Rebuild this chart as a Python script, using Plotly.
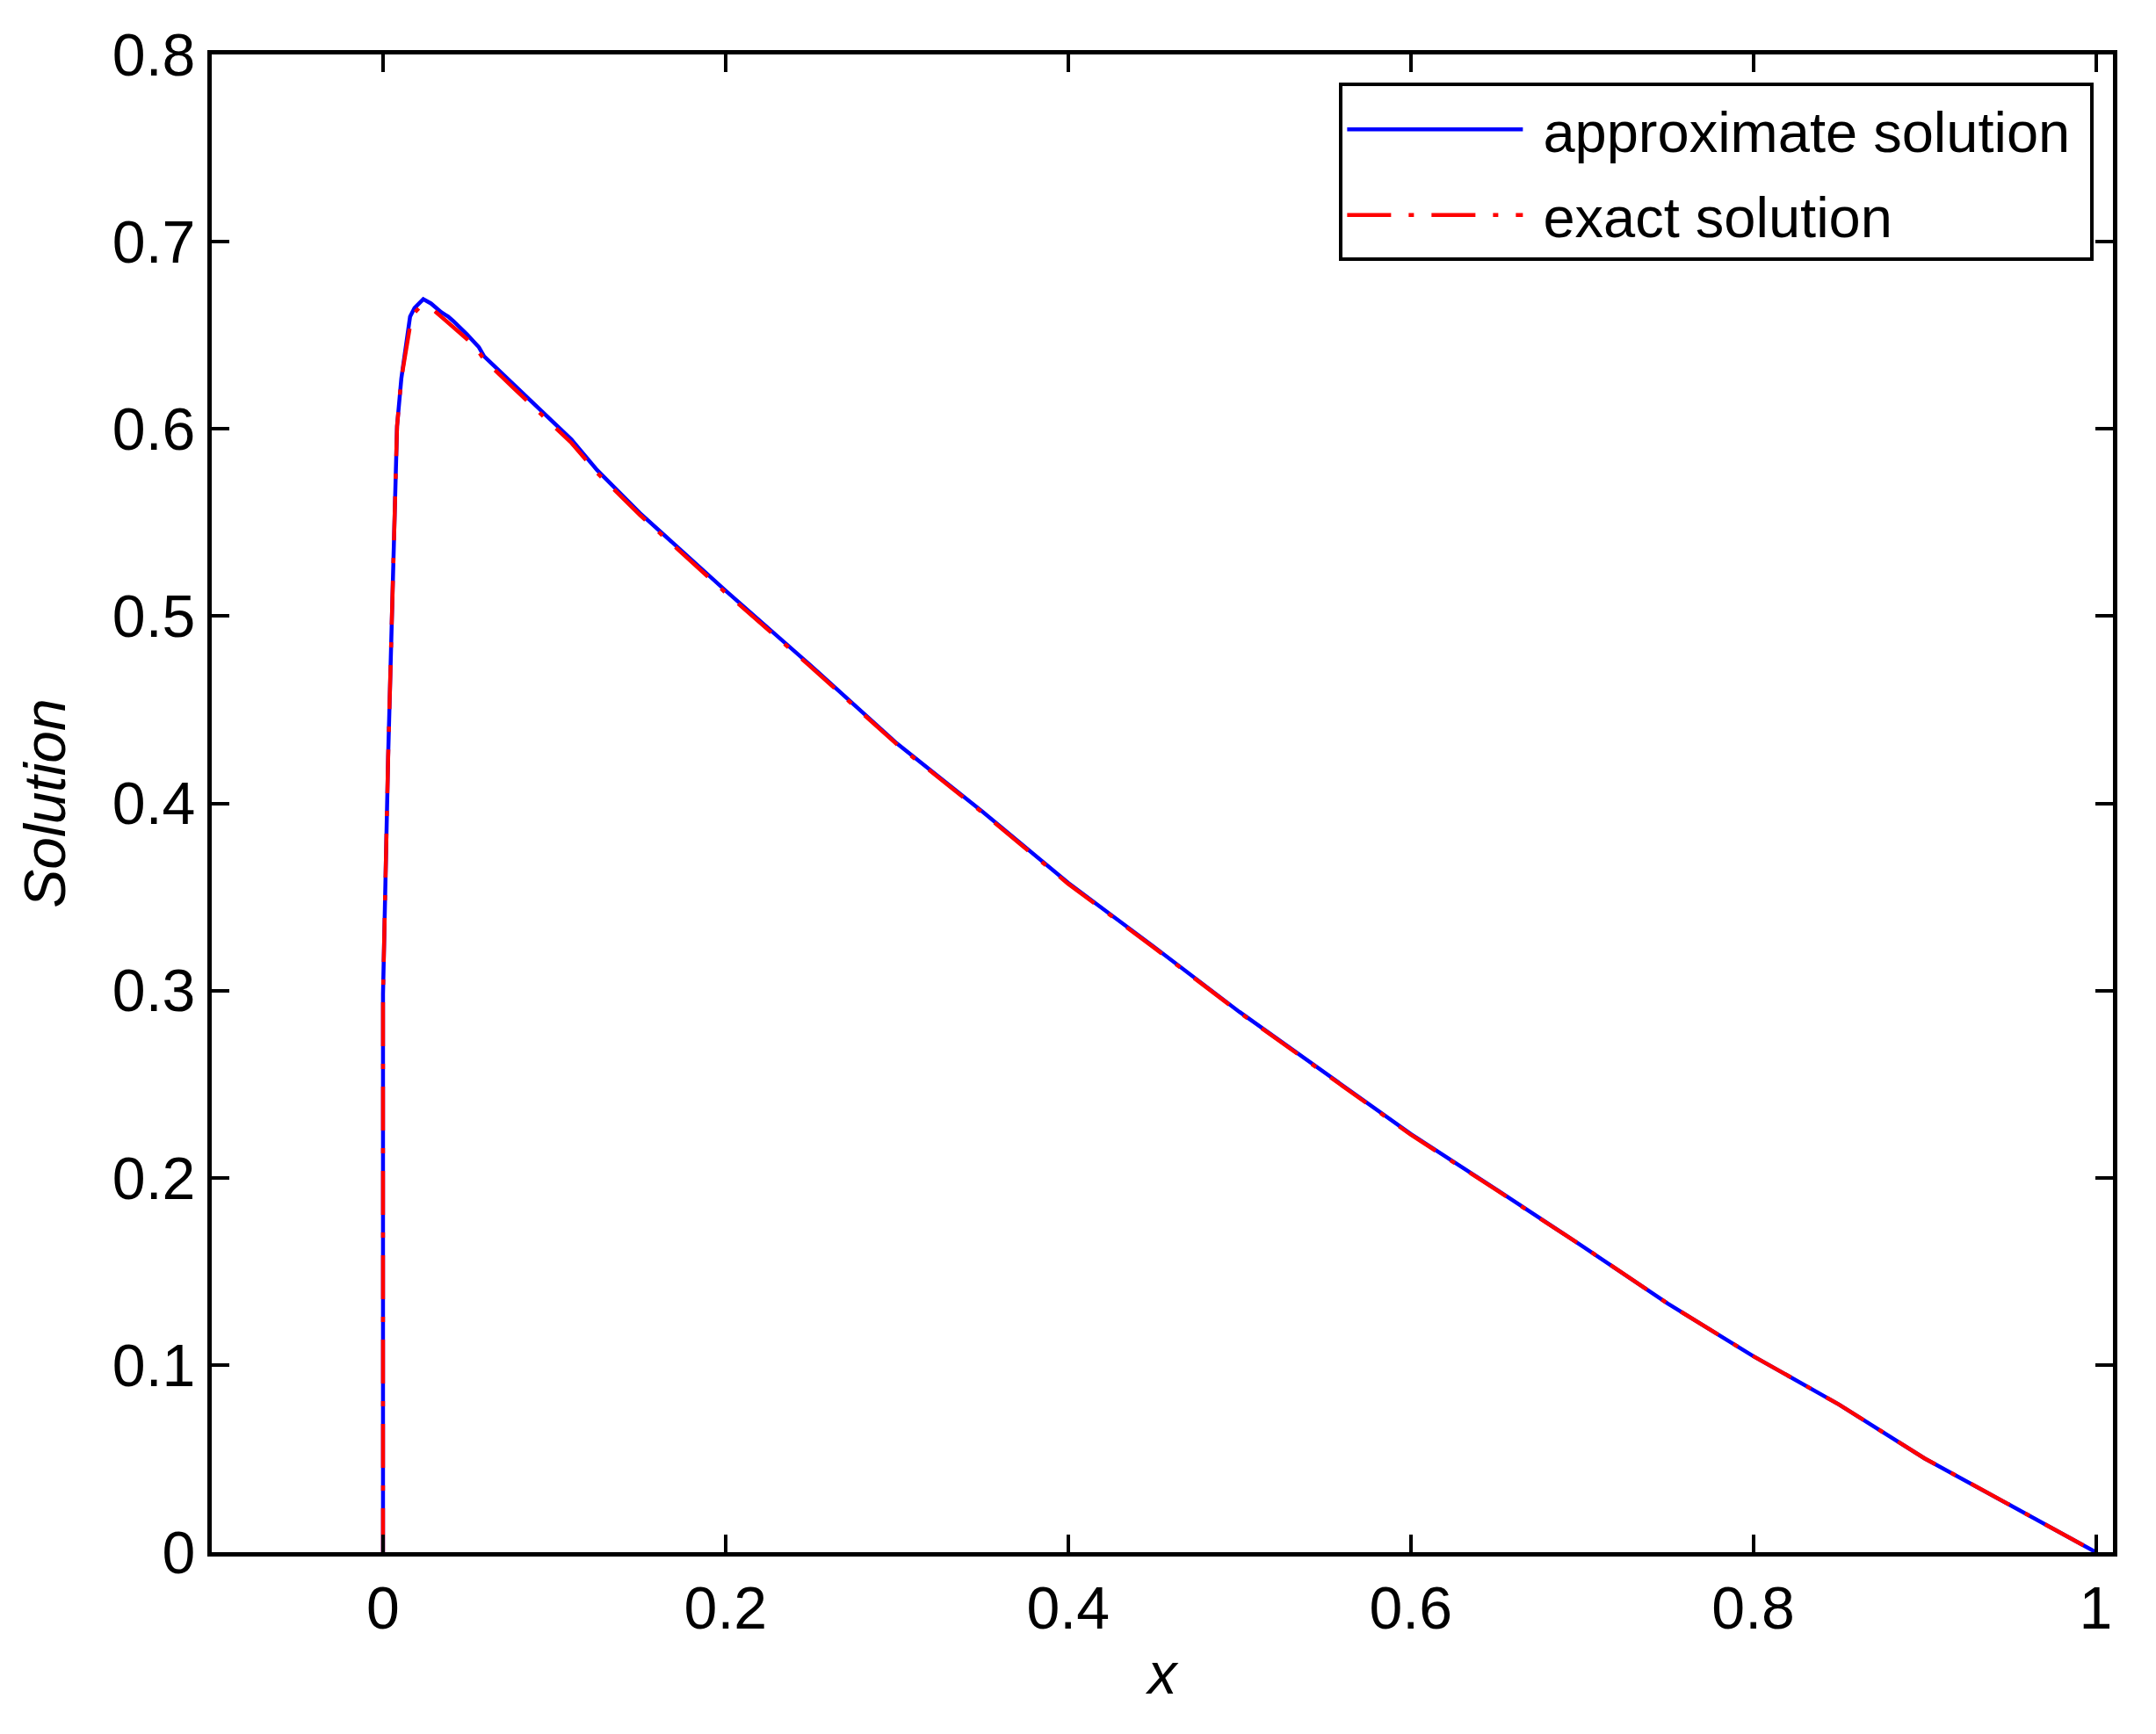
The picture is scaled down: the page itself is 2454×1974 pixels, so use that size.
import plotly.graph_objects as go

# values
x_approx = [0, 0, 0.003, 0.0056, 0.0082, 0.0107, 0.0133, 0.0158, 0.0184, 0.021, 0.0235,
            0.028, 0.031, 0.034, 0.038, 0.041, 0.049, 0.056, 0.059, 0.076, 0.0925, 0.11,
            0.125, 0.15, 0.2, 0.249, 0.3, 0.35, 0.4, 0.45, 0.5, 0.55, 0.6, 0.65, 0.7,
            0.75, 0.8, 0.85, 0.9, 0.95, 1.0]
y_approx = [0, 0.298, 0.425, 0.507, 0.6015, 0.627, 0.6436, 0.66, 0.6646, 0.667, 0.6693,
            0.667, 0.6646, 0.6623, 0.66, 0.6576, 0.6505, 0.6436, 0.6388, 0.624, 0.61, 0.5943,
            0.578, 0.555, 0.5136, 0.4742, 0.432, 0.3955, 0.3575, 0.3234, 0.2886, 0.2558, 0.2234,
            0.1937, 0.1636, 0.1328, 0.1047, 0.0789, 0.0501, 0.0251, 0.0]

x_exact = [0, 0, 0.003, 0.0056, 0.0082, 0.0107, 0.0133, 0.0158, 0.0184, 0.021, 0.0235,
           0.028, 0.031, 0.034, 0.038, 0.041, 0.049, 0.056, 0.059, 0.076, 0.0925, 0.11,
           0.125, 0.15, 0.2, 0.249, 0.3, 0.35, 0.4, 0.45, 0.5, 0.55, 0.6, 0.65, 0.7,
           0.75, 0.8, 0.85, 0.9, 0.95, 1.0]
y_exact = [0, 0.298, 0.425, 0.507, 0.6015, 0.627, 0.64, 0.655, 0.662, 0.6646, 0.6646,
           0.6646, 0.6623, 0.66, 0.657, 0.6545, 0.648, 0.641, 0.637, 0.622, 0.608, 0.5925,
           0.5765, 0.554, 0.5125, 0.4735, 0.4315, 0.395, 0.357, 0.323, 0.2883, 0.2555, 0.223,
           0.1935, 0.1636, 0.1328, 0.1047, 0.0789, 0.0501, 0.0251, 0.0]

x_ticks = [0, 0.2, 0.4, 0.6, 0.8, 1]
y_ticks = [0, 0.1, 0.2, 0.3, 0.4, 0.5, 0.6, 0.7, 0.8]

font = "Liberation Sans, Arial, sans-serif"

fig = go.Figure()

fig.add_trace(
    go.Scatter(
        x=x_approx,
        y=y_approx,
        mode="lines",
        name="\u00a0approximate solution\u00a0",
        legendgroup="a",
        line=dict(color="#0000ff", width=4.5),
    )
)

fig.add_trace(
    go.Scatter(
        x=x_exact,
        y=y_exact,
        mode="lines",
        name="\u00a0exact solution",
        legendgroup="b",
        line=dict(color="#ff0000", width=4.5, dash="50px,20px,6px,20px"),
    )
)

axis_style = dict(
    showline=True,
    linecolor="black",
    linewidth=5,
    mirror="allticks",
    ticks="inside",
    ticklen=20,
    tickwidth=4,
    tickcolor="black",
    showgrid=False,
    zeroline=False,
    tickfont=dict(family=font, size=68, color="black"),
)

fig.update_xaxes(
    range=[-0.1, 1.01],
    tickvals=x_ticks,
    ticktext=[f"{v:g}" for v in x_ticks],
    title=dict(text="<i>x</i>", font=dict(family=font, size=66, color="black"), standoff=17),
    **axis_style,
)
fig.update_yaxes(
    range=[0, 0.8],
    tickvals=y_ticks,
    ticktext=[f"{v:g}" for v in y_ticks],
    title=dict(text="<i>Solution</i>", font=dict(family=font, size=66, color="black"), standoff=33),
    **axis_style,
)

fig.update_layout(
    width=2454,
    height=1974,
    margin=dict(l=233, r=57, t=54, b=215),
    paper_bgcolor="white",
    plot_bgcolor="white",
    showlegend=True,
    legend=dict(
        x=0.99,
        y=0.981,
        xanchor="right",
        yanchor="top",
        bgcolor="white",
        bordercolor="black",
        borderwidth=4,
        font=dict(family=font, size=65, color="black"),
        itemwidth=200,
        traceorder="grouped",
        tracegroupgap=10,
    ),
)

fig.write_html("out.html")
